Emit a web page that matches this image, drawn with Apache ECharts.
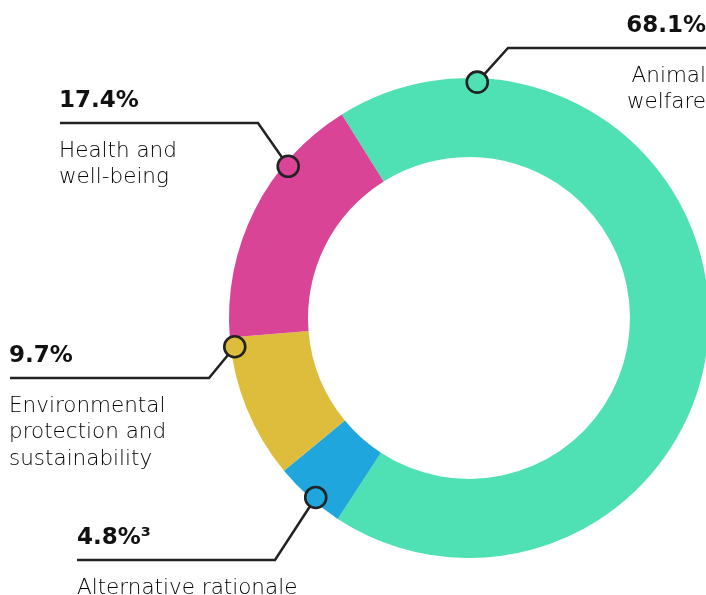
<!DOCTYPE html>
<html>
<head>
<meta charset="utf-8">
<script src="https://cdn.jsdelivr.net/npm/echarts@6/dist/echarts.min.js"></script>
<style>
  html, body { margin: 0; padding: 0; background: #fff; }
  #chart { width: 706px; height: 595px; }
</style>
</head>
<body>
<div id="chart"></div>
<script>
// ---- data ----
const categories = ['Animal\nwelfare', 'Alternative rationale', 'Environmental\nprotection and\nsustainability', 'Health and\nwell-being'];
const values = [68.1, 4.8, 9.7, 17.4];
const footnotes = ['', '\u00B3', '', ''];
const colors = ['#4FE0B3', '#1FA6DC', '#DDBD3B', '#D94496'];

// ---- annotation layout (positions only) ----
const CENTER = [469, 318];
const RADII = [161, 240];
const MARKER_R = 236;
const layouts = [
  { markerAngle: 2,     elbow: [508, 48],  end: [706, 48],  align: 'right', textX: 706 },
  { markerAngle: 220.5, elbow: [275, 560], end: [77, 560],  align: 'left',  textX: 77 },
  { markerAngle: 263,   elbow: [209, 378], end: [10, 378],  align: 'left',  textX: 9 },
  { markerAngle: 310,   elbow: [258, 123], end: [60, 123],  align: 'left',  textX: 59 }
];
function markerPos(deg) {
  const a = deg * Math.PI / 180;
  return [CENTER[0] + MARKER_R * Math.sin(a), CENTER[1] - MARKER_R * Math.cos(a)];
}

const chart = echarts.init(document.getElementById('chart'), null, { renderer: 'canvas' });
const FONT = 'DejaVu Sans';

const option = {
  animation: false,
  backgroundColor: '#ffffff',
  series: [{
    type: 'pie',
    center: CENTER,
    radius: RADII,
    startAngle: 122,
    clockwise: true,
    avoidLabelOverlap: false,
    silent: true,
    emphasis: { disabled: true },
    itemStyle: { borderWidth: 0 },
    data: values.map((v, i) => ({ value: v, name: categories[i], itemStyle: { color: colors[i] } })),
    label: {
      show: true,
      position: 'outside',
      formatter: (p) => {
        const i = p.dataIndex;
        const nameLines = categories[i].split('\n').map(s => '{n|' + s + '}').join('\n');
        return '{v|' + values[i].toFixed(1) + '%' + footnotes[i] + '}\n' + nameLines;
      },
      rich: {
        v: { fontFamily: FONT, fontWeight: 'bold', fontSize: 23, color: '#111', lineHeight: 74 },
        n: { fontFamily: FONT, fontWeight: 300, fontSize: 21.5, color: '#000', lineHeight: 26.5 }
      }
    },
    labelLine: {
      show: true,
      smooth: false,
      lineStyle: { color: '#222', width: 2.5 }
    },
    labelLayout: (params) => {
      const L = layouts[params.dataIndex];
      return {
        x: L.textX,
        y: L.end[1] - 59,
        align: L.align,
        verticalAlign: 'top',
        labelLinePoints: [markerPos(L.markerAngle), L.elbow, L.end]
      };
    }
  }],
  graphic: layouts.map((L, i) => {
    const p = markerPos(L.markerAngle);
    return {
      type: 'circle',
      z: 100,
      silent: true,
      shape: { cx: p[0], cy: p[1], r: 10.5 },
      style: { fill: colors[i], stroke: '#222', lineWidth: 2.6 }
    };
  })
};
chart.setOption(option);
</script>
</body>
</html>
